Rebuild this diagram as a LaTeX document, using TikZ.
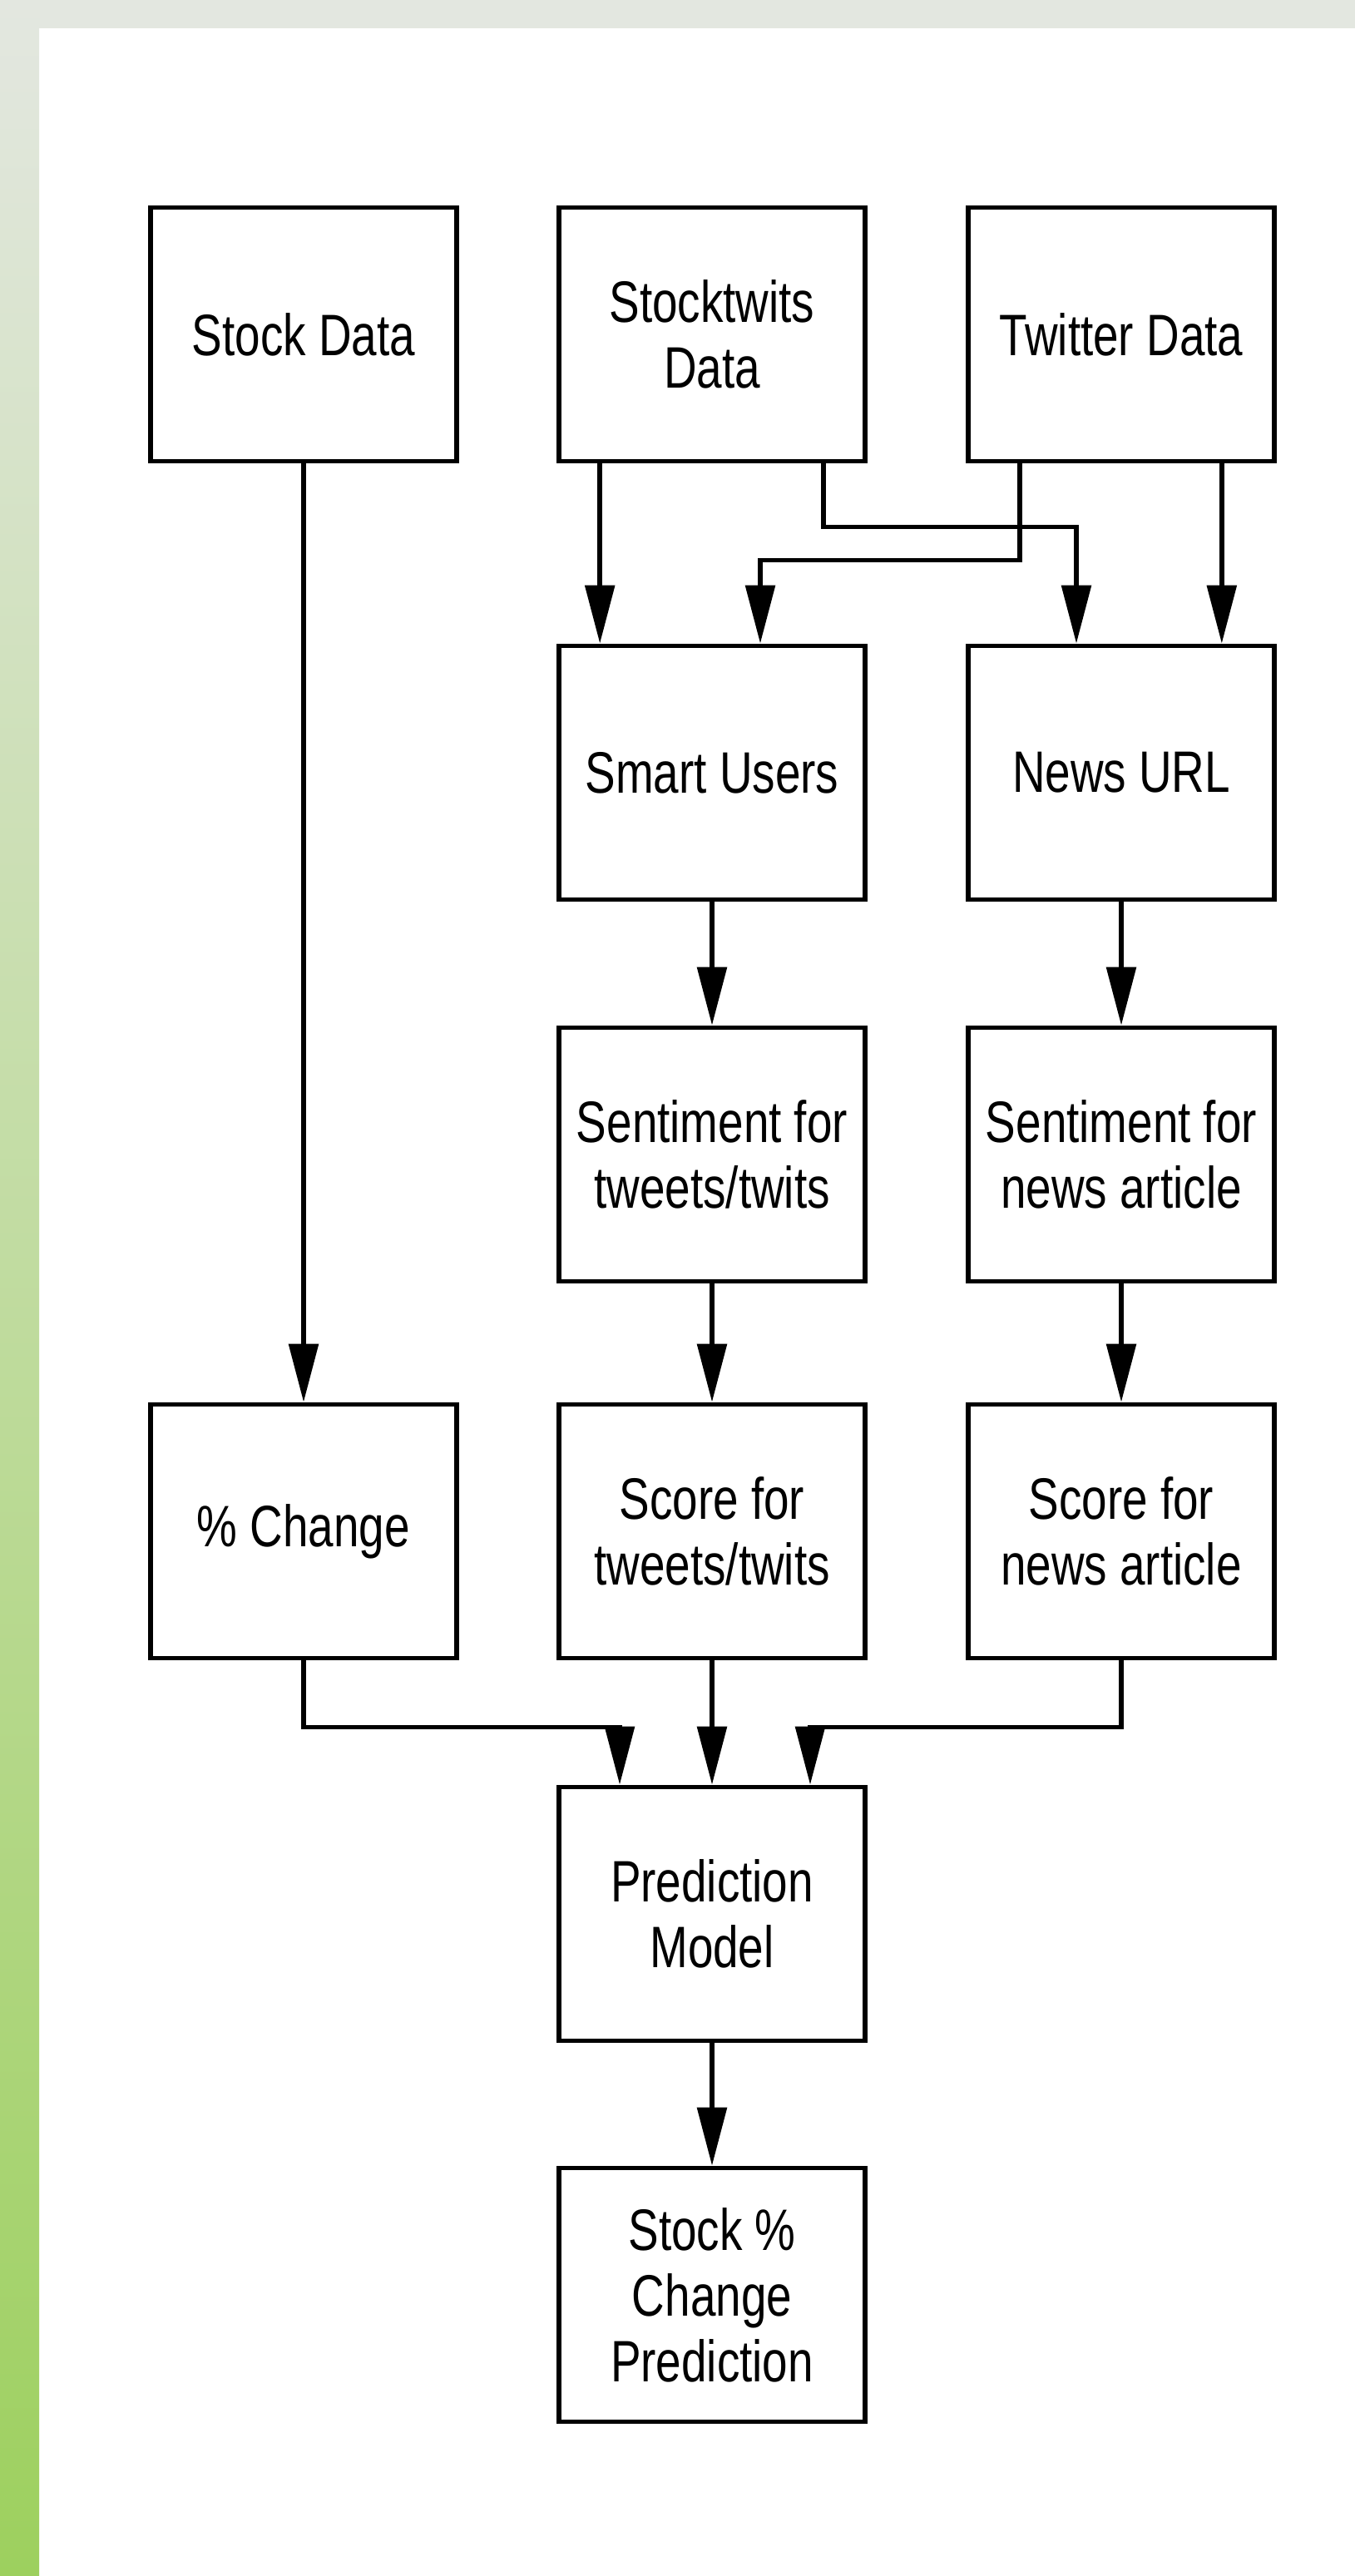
\documentclass[tikz,border=0pt]{standalone}
\usepackage{fontspec}
\setmainfont{Liberation Sans}[FakeStretch=0.78]
\usepackage{tikz}
\usetikzlibrary{arrows.meta,positioning,calc}

\definecolor{topgray}{RGB}{227,231,224}
\definecolor{bargreen}{RGB}{157,208,94}

\begin{document}
\begin{tikzpicture}[every node/.style={font=\fontsize{20pt}{22.5pt}\selectfont},
  blk/.style={draw, rectangle, line width=1.6pt, minimum width=3.68cm, minimum height=3.05cm, inner sep=0pt, align=center},
  arr/.style={-{Triangle[length=0.7cm,width=0.35cm]}, line width=1.6pt}]

\useasboundingbox (0,0) rectangle (16.29,-30.97);

% Page frame
\fill[topgray] (0,0) rectangle (16.29,-0.34);
\shade[top color=topgray, bottom color=bargreen] (0,0) rectangle (0.47,-30.97);

% Data sources
\node[blk] (sd) at (3.65,-4.02) {Stock Data};
\node[blk] (stw) at (8.56,-4.02) {Stocktwits\\Data};
\node[blk] (twd) at (13.48,-4.02) {Twitter Data};

% Processing
\node[blk] (smart) at (8.56,-9.29) {Smart Users};
\node[blk] (news) at (13.48,-9.29) {News URL};
\node[blk] (sentw) at (8.56,-13.88) {Sentiment for\\tweets/twits};
\node[blk] (senn) at (13.48,-13.88) {Sentiment for\\news article};

% Features
\node[blk] (pct) at (3.65,-18.41) {\% Change};
\node[blk] (sctw) at (8.56,-18.41) {Score for\\tweets/twits};
\node[blk] (scn) at (13.48,-18.41) {Score for\\news article};

% Model and output
\node[blk] (pred) at (8.56,-23.01) {Prediction\\Model};
\node[blk] (out) at (8.56,-27.59) {Stock \%\\Change\\Prediction};

% Connections
\draw[arr] (sd) -- (pct);
\draw[arr] ([xshift=0.52cm]stw.south west) -- ([xshift=0.52cm]smart.north west);
\draw[arr] ([xshift=-0.53cm]stw.south east) -- ++(0,-0.76) -| ([xshift=-0.54cm]news.north);
\draw[arr] ([xshift=0.65cm]twd.south west) -- ++(0,-1.16) -| ([xshift=0.58cm]smart.north);
\draw[arr] ([xshift=-0.66cm]twd.south east) -- ([xshift=-0.66cm]news.north east);
\draw[arr] (smart) -- (sentw);
\draw[arr] (news) -- (senn);
\draw[arr] (sentw) -- (sctw);
\draw[arr] (senn) -- (scn);

% Into the model
\draw[arr] (pct.south) -- ++(0,-0.8) -| ([xshift=-1.11cm]pred.north);
\draw[arr] (sctw) -- (pred);
\draw[arr] (scn.south) -- ++(0,-0.8) -| ([xshift=1.18cm]pred.north);
\draw[arr] (pred) -- (out);

\end{tikzpicture}
\end{document}
